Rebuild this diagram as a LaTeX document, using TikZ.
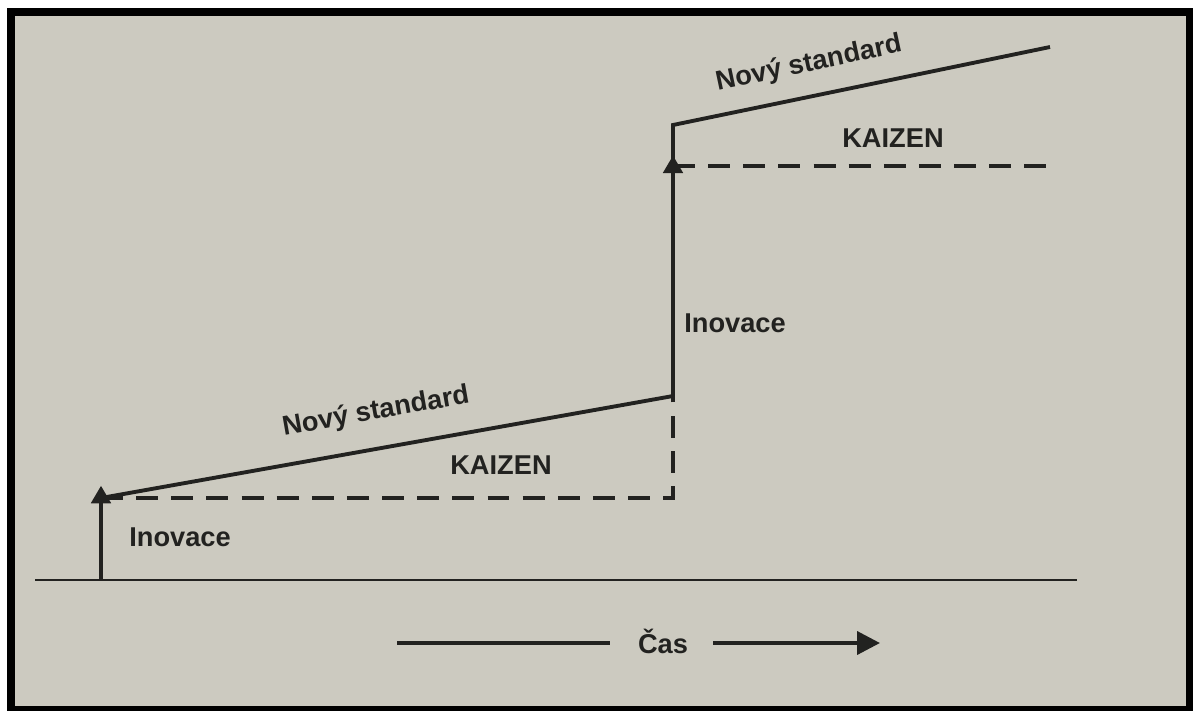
\documentclass[tikz,border=0pt]{standalone}
\usepackage{fontspec}
\setmainfont{Liberation Sans}
\usetikzlibrary{arrows.meta}
\definecolor{papier}{RGB}{204,202,192}
\definecolor{encre}{RGB}{34,34,32}
\tikzset{
  trait/.style={draw=encre,line width=2.2pt},
  tirets/.style={draw=encre,line width=2.2pt,dash pattern=on 12.5pt off 7.5pt},
  fleche/.style={-{Triangle[length=10pt,width=11pt]}},
  etiq/.style={text=encre,font=\fontsize{15.5}{18}\selectfont\bfseries,inner sep=0pt}
}
\begin{document}
\begin{tikzpicture}[x=0.02cm,y=-0.02cm]
            \useasboundingbox (0,0) rectangle (1193,711);
            \fill[white] (0,0) rectangle (1193,711);
            \fill[black] (7,8) rectangle (1193,711);
            \fill[papier] (15,16) rectangle (1186,706);%cadre de la photo
            \coordinate (g0) at (35,580);  \coordinate (g1) at (1077,580);
            \coordinate (o1) at (101,580); \coordinate (a1) at (101,498);
            \coordinate (b1) at (673,396); \coordinate (k1) at (673,498);
            \coordinate (m2) at (673,166); \coordinate (c2) at (673,125);
            \coordinate (e2) at (1050,47); \coordinate (d2) at (1050,166);
            \draw [draw=encre,line width=1.2pt] (g0) -- (g1);
            \draw [tirets] (a1) -- (k1) -- (b1);
            \draw [tirets] (m2) -- (d2);
            \draw [trait,fleche] (o1) -- ([yshift=7pt]a1);
            \draw [trait] (a1) -- (b1) -- (m2);
            \draw [trait,fleche] (b1) -- ([yshift=6pt]m2);
            \draw [trait,line join=miter] (m2) -- (c2) -- (e2);
            \node [etiq] (ino1) at (180,537) {Inovace};
            \node [etiq,rotate=10] (std1) at (376,412) {Nový standard};
            \node [etiq] (kai1) at (501,465) {KAIZEN};
            \node [etiq] (ino2) at (735,323) {Inovace};
            \node [etiq] (kai2) at (893,138) {KAIZEN};
            \node [etiq,rotate=12] (std2) at (809,64) {Nový standard};
            % axe du temps
            \node [etiq] (cas) at (663,641) {Čas};
            \coordinate (t0) at (397,643); \coordinate (t1) at (610,643);
            \coordinate (t2) at (713,643); \coordinate (t3) at (880,643);
            \draw [trait] (t0) -- (t1);
            \draw [trait,-{Triangle[length=13pt,width=13pt]}] (t2) -- (t3);
        \end{tikzpicture}
\end{document}
